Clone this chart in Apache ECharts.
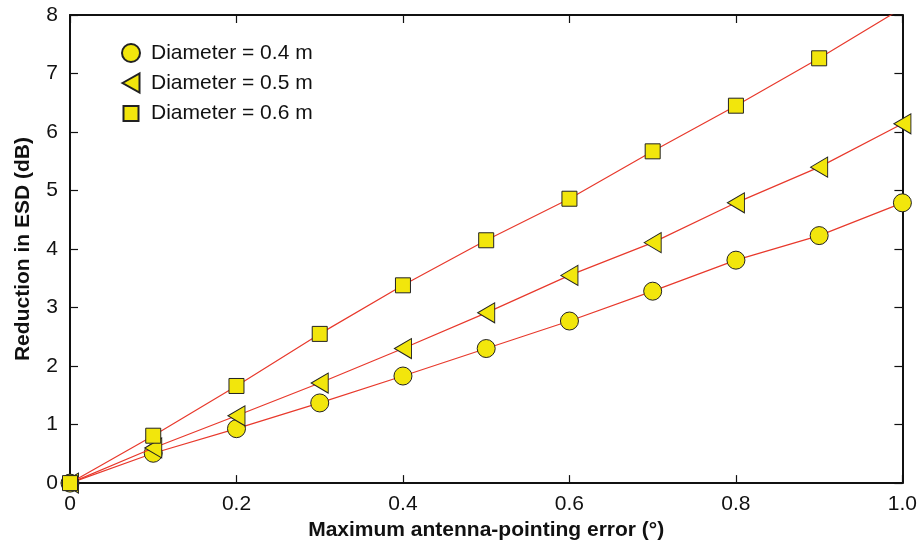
<!DOCTYPE html>
<html><head><meta charset="utf-8">
<script src="https://cdn.jsdelivr.net/npm/echarts@6/dist/echarts.min.js"></script>
<style>html,body{margin:0;padding:0;background:#fff;width:100%;height:100%;overflow:hidden}#c{width:920px;height:546px}</style>
</head><body><div id="c"></div>
<script>
const xValues = [0, 0.1, 0.2, 0.3, 0.4, 0.5, 0.6, 0.7, 0.8, 0.9, 1.0];
const d04 = [0, 0.51, 0.93, 1.37, 1.83, 2.30, 2.77, 3.28, 3.81, 4.23, 4.79];
const d05 = [0, 0.60, 1.15, 1.71, 2.30, 2.91, 3.55, 4.11, 4.79, 5.40, 6.14];
const d06 = [0, 0.81, 1.66, 2.55, 3.38, 4.15, 4.86, 5.67, 6.45, 7.26, 8.12];
const seriesNames = ['Diameter = 0.4 m', 'Diameter = 0.5 m', 'Diameter = 0.6 m'];
const xTitle = 'Maximum antenna-pointing error (°)';
const yTitle = 'Reduction in ESD (dB)';

const FONT = 'Liberation Sans, Arial, Helvetica, sans-serif';
const triPath = 'path://M0,10 L17,0 L17,20 Z';
const symbols = ['circle', triPath, 'rect'];
const sizes = [18, [17, 20], 15];
const legendIcons = [
  'path://M1,10 A9,9 0 1 1 19,10 A9,9 0 1 1 1,10 Z M0,0 M20,20',
  'path://M1.5,10 L18.5,0.5 L18.5,19.5 Z M0,0 M20,20',
  'path://M2.5,3 L17.5,3 L17.5,18 L2.5,18 Z M0,0 M20,20'
];
const fill = '#f2e60c';

const chart = echarts.init(document.getElementById('c'));
const pair = arr => xValues.map((x, i) => [x, arr[i]]);
const datasets = [d04, d05, d06];

const axisCommon = {
  axisLine: {show: true, onZero: false, lineStyle: {color: '#111', width: 2}},
  axisTick: {show: true, inside: true, length: 8, lineStyle: {color: '#111', width: 1.2}},
  splitLine: {show: false}
};

chart.setOption({
  animation: false,
  backgroundColor: '#fff',
  grid: {left: 70, right: 14, top: 15, bottom: 58, containLabel: false},
  legend: {
    left: 120, top: 42, orient: 'vertical', itemGap: 8, padding: 0,
    itemWidth: 20, itemHeight: 20,
    textStyle: {fontFamily: FONT, fontSize: 21, color: '#111', padding: [0, 0, 0, 5]},
    data: seriesNames.map((n, i) => ({name: n, icon: legendIcons[i]}))
  },
  xAxis: [
    Object.assign({type: 'value', min: 0, max: 1, interval: 0.2, position: 'bottom',
      axisLabel: {fontFamily: FONT, fontSize: 21, color: '#111', margin: 11,
        formatter: v => v === 0 ? '0' : v.toFixed(1)},
      name: xTitle, nameLocation: 'middle', nameGap: 36,
      nameTextStyle: {fontFamily: FONT, fontSize: 21, fontWeight: 'bold', color: '#111'}
    }, axisCommon),
    Object.assign({type: 'value', min: 0, max: 1, interval: 0.2, position: 'top',
      axisLabel: {show: false}}, axisCommon)
  ],
  yAxis: [
    Object.assign({type: 'value', min: 0, max: 8, interval: 1, position: 'left',
      axisLabel: {fontFamily: FONT, fontSize: 21, color: '#111', margin: 12},
      name: yTitle, nameLocation: 'middle', nameGap: 36, nameRotate: 90,
      nameTextStyle: {fontFamily: FONT, fontSize: 21, fontWeight: 'bold', color: '#111'}
    }, axisCommon),
    Object.assign({type: 'value', min: 0, max: 8, interval: 1, position: 'right',
      axisLabel: {show: false}}, axisCommon)
  ],
  series: datasets.map((arr, i) => ({
    name: seriesNames[i], type: 'line', data: pair(arr),
    xAxisIndex: 0, yAxisIndex: 0, clip: true,
    symbol: symbols[i], symbolSize: sizes[i], showAllSymbol: true,
    lineStyle: {color: '#e8392c', width: 1.2},
    itemStyle: {color: fill, borderColor: '#222', borderWidth: 1},
    z: 3 + i
  }))
});
</script></body></html>
